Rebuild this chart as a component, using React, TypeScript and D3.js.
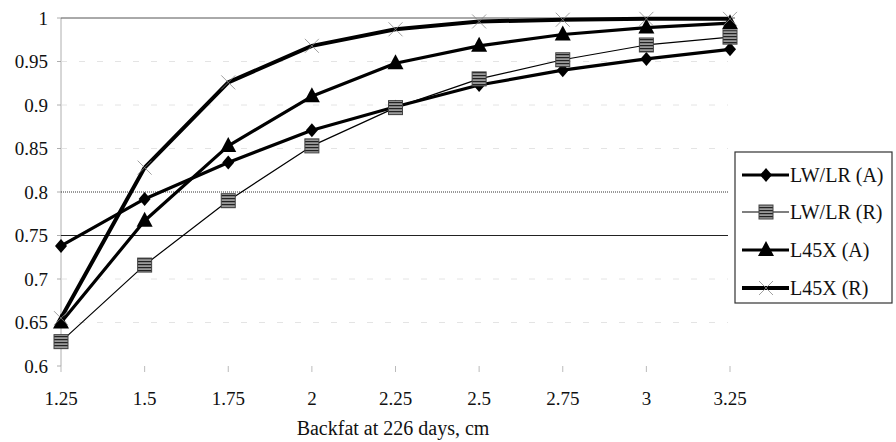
import React from "react";
import * as d3 from "d3";

const categories = ["1.25", "1.5", "1.75", "2", "2.25", "2.5", "2.75", "3", "3.25"];
const lwlrA = [0.738, 0.792, 0.834, 0.871, 0.898, 0.923, 0.940, 0.953, 0.964];
const lwlrR = [0.628, 0.716, 0.790, 0.853, 0.897, 0.930, 0.952, 0.969, 0.978];
const l45xA = [0.650, 0.767, 0.853, 0.910, 0.948, 0.968, 0.981, 0.989, 0.994];
const l45xR = [0.655, 0.828, 0.926, 0.968, 0.987, 0.996, 0.998, 0.999, 0.999];
const yTicks = [0.6, 0.65, 0.7, 0.75, 0.8, 0.85, 0.9, 0.95, 1];
const seriesNames = ["LW/LR (A)", "LW/LR (R)", "L45X (A)", "L45X (R)"];
const xTitle = "Backfat at 226 days, cm";

const W = 896, H = 442;
const FF = "Liberation Serif";

function T(props: any) {
  const { children, ...rest } = props;
  return (
    <text {...rest} fontFamily={FF} style={{ fontFamily: `"${FF}"` }} fill="#111">
      {children}
    </text>
  );
}

export default function App() {
  const x = d3.scalePoint<string>().domain(categories).range([61, 730]);
  const y = d3.scaleLinear().domain([0.6, 1]).range([366, 18]);
  const line = d3.line<number>().x((_, i) => x(categories[i])!).y(d => y(d));

  const series = [
    { name: seriesNames[0], data: lwlrA, width: 3.2, marker: "diamond" },
    { name: seriesNames[1], data: lwlrR, width: 1.2, marker: "square" },
    { name: seriesNames[2], data: l45xA, width: 3.2, marker: "triangle" },
    { name: seriesNames[3], data: l45xR, width: 4, marker: "cross" },
  ];

  const marker = (m: string, cx: number, cy: number, key: string | number) => {
    if (m === "diamond") {
      return <path key={key} d={`M${cx},${cy - 7}L${cx + 6},${cy}L${cx},${cy + 7}L${cx - 6},${cy}Z`} fill="#000" />;
    }
    if (m === "square") {
      return <rect key={key} x={cx - 7} y={cy - 7} width={14} height={14} fill="url(#sqpat)" stroke="#444" strokeWidth={1} />;
    }
    if (m === "triangle") {
      return <path key={key} d={`M${cx},${cy - 9}L${cx + 8},${cy + 6}L${cx - 8},${cy + 6}Z`} fill="#000" />;
    }
    return (
      <g key={key} stroke="#888" strokeWidth={0.8}>
        <line x1={cx - 7} y1={cy - 7} x2={cx + 7} y2={cy + 7} />
        <line x1={cx - 7} y1={cy + 7} x2={cx + 7} y2={cy - 7} />
      </g>
    );
  };

  const legendY = [175, 212, 250, 288];

  return (
    <div style={{ position: "absolute", left: 0, top: 0 }}>
      <svg width={W} height={H} style={{ display: "block", background: "#fff", fontFamily: `"${FF}"` }}>
        <defs>
          <pattern id="sqpat" width="4" height="3" patternUnits="userSpaceOnUse">
            <rect width="4" height="3" fill="#999" />
            <rect width="4" height="1.2" fill="#222" />
          </pattern>
        </defs>
        <line x1={61} x2={61} y1={18} y2={366} stroke="#999" strokeWidth={0.8} />
        {yTicks.map(t => {
          if (t === 0.6) return null;
          let stroke = "#ddd", dash = "6,12", sw = 0.8;
          if (t === 1) { stroke = "#555"; dash = ""; sw = 1; }
          if (t === 0.8) { stroke = "#333"; dash = "1,1"; sw = 1; }
          if (t === 0.75) { stroke = "#222"; dash = ""; sw = 1; }
          return <line key={t} x1={61} x2={t === 1 ? 735 : 728} y1={y(t)} y2={y(t)} stroke={stroke} strokeWidth={sw} strokeDasharray={dash} />;
        })}
        {yTicks.map(t => (
          <g key={"yt" + t}>
            <line x1={57} x2={61} y1={y(t)} y2={y(t)} stroke="#999" strokeWidth={0.8} />
            <T x={48} y={y(t)} dy="0.35em" textAnchor="end" fontSize={19}>{d3.format("")(t)}</T>
          </g>
        ))}
        {categories.map(c => (
          <g key={"xt" + c}>
            <line x1={x(c)!} x2={x(c)!} y1={366} y2={372} stroke="#aaa" strokeWidth={0.8} />
            <T x={x(c)!} y={405} textAnchor="middle" fontSize={19}>{c}</T>
          </g>
        ))}
        <T x={393} y={435} textAnchor="middle" fontSize={20}>{xTitle}</T>
        {series.map((s, si) => (
          <path key={"l" + si} d={line(s.data)!} fill="none" stroke="#000" strokeWidth={s.width} strokeLinejoin="round" />
        ))}
        {series.map((s, si) => (
          <g key={"m" + si}>
            {s.data.map((v, i) => marker(s.marker, x(categories[i])!, y(v), i))}
          </g>
        ))}
        <rect x={735} y={152} width={157} height={151} fill="#fff" stroke="#333" strokeWidth={1.2} />
        {series.map((s, i) => (
          <g key={"lg" + i}>
            <line x1={742} x2={789} y1={legendY[i]} y2={legendY[i]} stroke="#000" strokeWidth={s.width} />
            {marker(s.marker, 766, legendY[i], "lm" + i)}
            <T x={790} y={legendY[i]} dy="0.35em" fontSize={20}>{s.name}</T>
          </g>
        ))}
      </svg>
    </div>
  );
}
